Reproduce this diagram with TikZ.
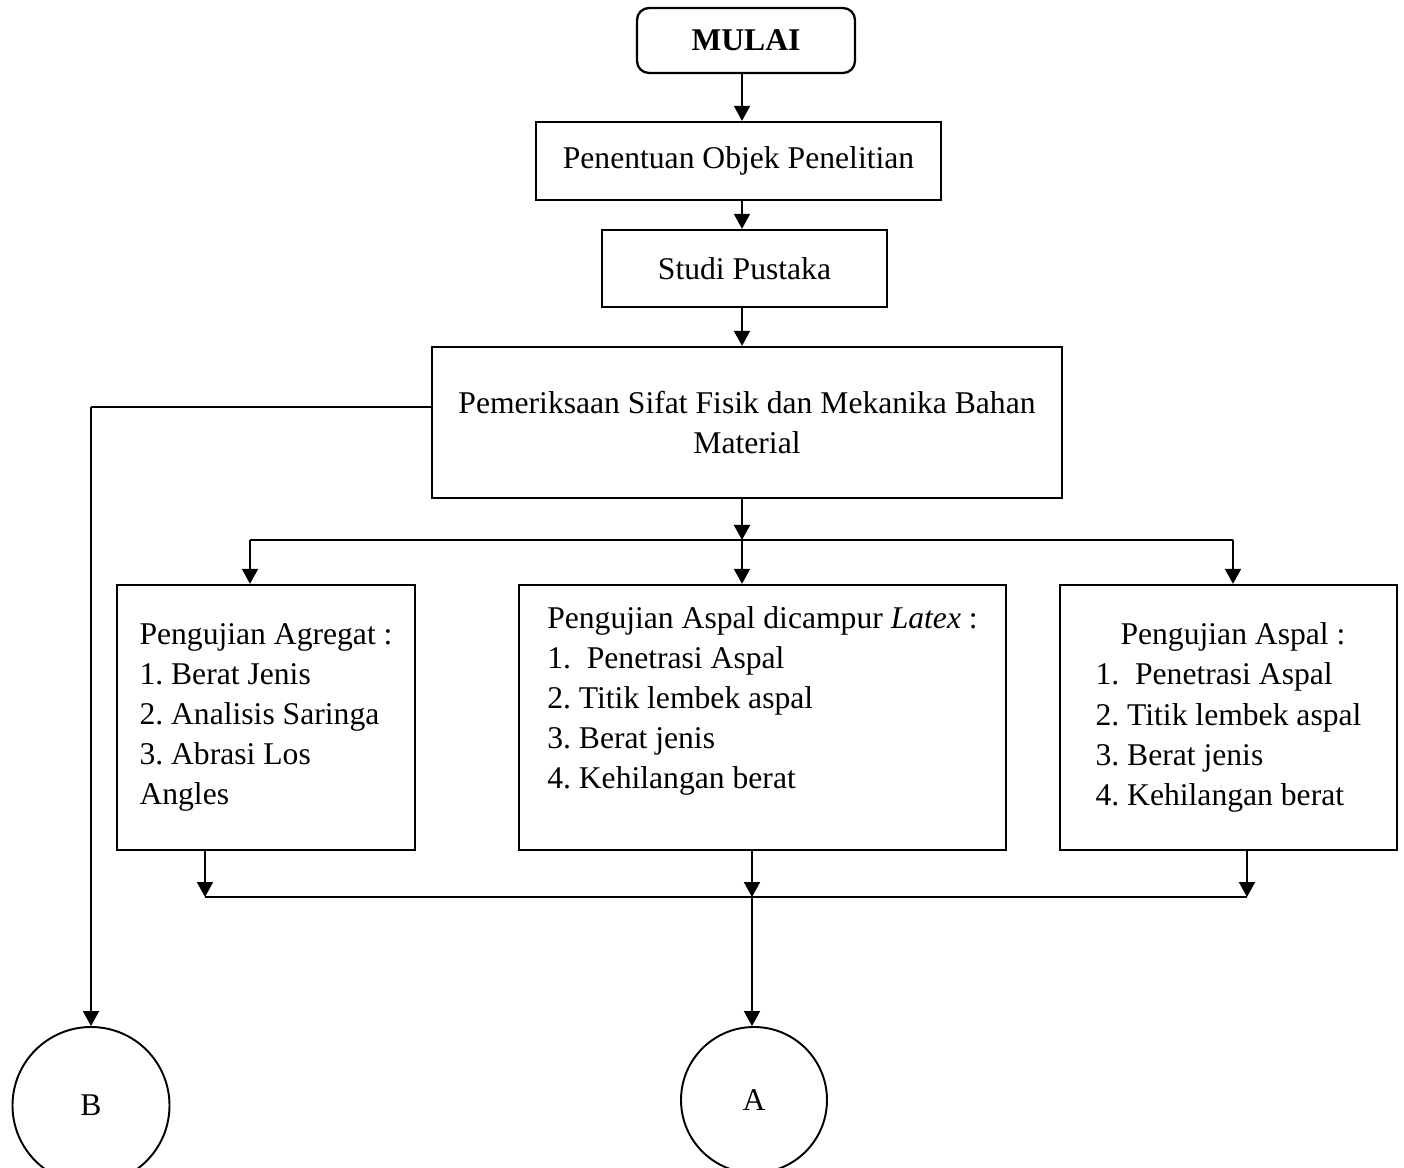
\documentclass[tikz,border=0pt]{standalone}
\usepackage{fontspec}
\setmainfont{Liberation Serif}
\usetikzlibrary{arrows.meta}
\frenchspacing

\begin{document}
\begin{tikzpicture}[x=0.2mm, y=-0.2mm,
    every node/.style={font=\fontsize{18}{22.8}\selectfont},
    kotak/.style={draw, line width=1.3pt, inner sep=0pt},
    kotakbulat/.style={kotak, rounded corners=2.4mm},
    lingkaran/.style={circle, draw, line width=1.1pt, inner sep=0pt},
    panah/.style={line width=1.1pt, -{Triangle[width=3.2mm, length=3mm]}},
    tipis/.style={line width=0.6pt}]
    \useasboundingbox (0,0) rectangle (1404,1168);

    % Posisi kotak-kotak
    \node[kotakbulat, minimum width=43.6mm, minimum height=13mm] (mulai) at (746,40.5) {\textbf{MULAI}};
    \node[kotak, minimum width=81mm, minimum height=15.6mm] (objek) at (738.5,161) {Penentuan Objek Penelitian};
    \node[kotak, minimum width=57mm, minimum height=15.4mm] (studi) at (744.5,268.5) {Studi Pustaka};
    \node[kotak, minimum width=126mm, minimum height=30.2mm, align=center] (periksa) at (747,422.5)
        {Pemeriksaan Sifat Fisik dan Mekanika Bahan\\Material};

    \node[kotak, minimum width=59.6mm, minimum height=53mm, align=left] (uji1) at (266,717.5)
        {Pengujian Agregat :\\1. Berat Jenis\\2. Analisis Saringa\\3. Abrasi Los\\Angles};
    \node[kotak, minimum width=97.4mm, minimum height=53mm, align=left] (uji2) at (762.5,717.5)
        {Pengujian Aspal dicampur \textit{Latex} :\\1.~ Penetrasi Aspal\\2. Titik lembek aspal\\3. Berat jenis\\4. Kehilangan berat\\\mbox{}};
    \node[kotak, minimum width=67.4mm, minimum height=53mm, align=left] (uji3) at (1228.5,717.5)
        {\hspace*{5mm}Pengujian Aspal :\\1.~ Penetrasi Aspal\\2. Titik lembek aspal\\3. Berat jenis\\4. Kehilangan berat};

    \node[lingkaran, minimum size=31.4mm] (b) at (91,1105.5) {B};
    \node[lingkaran, minimum size=29.2mm] (a) at (754,1100) {A};

    % Titik bantu
    \coordinate (poros) at (742,0);
    \coordinate (garisB) at (91,407);
    \coordinate (c1) at (250,540);
    \coordinate (c2) at (742,540);
    \coordinate (c3) at (1233,540);
    \coordinate (t1) at (205,897);
    \coordinate (t2) at (752,897);
    \coordinate (t3) at (1247,897);

    % Alur utama
    \draw[panah] (mulai.south -| poros) -- (objek.north -| poros);
    \draw[panah] (objek.south -| poros) -- (studi.north -| poros);
    \draw[panah] (studi.south -| poros) -- (periksa.north -| poros);
    \draw[panah] (periksa.south -| poros) -- (c2);

    % Cabang ke pengujian
    \draw[tipis] (c1) -- (c3);
    \draw[panah] (c1) -- (uji1.north -| c1);
    \draw[panah] (c2) -- (uji2.north -| c2);
    \draw[panah] (c3) -- (uji3.north -| c3);

    % Gabung ke A
    \draw[panah] (uji1.south -| t1) -- (t1);
    \draw[panah] (uji2.south -| t2) -- (t2);
    \draw[panah] (uji3.south -| t3) -- (t3);
    \draw[tipis] (t1) -- (t3);
    \draw[panah] (t2) -- (a.north -| t2);

    % Jalur ke B
    \draw[tipis] (periksa.west |- garisB) -- (garisB);
    \draw[panah] (garisB) -- (b);
\end{tikzpicture}
\end{document}
